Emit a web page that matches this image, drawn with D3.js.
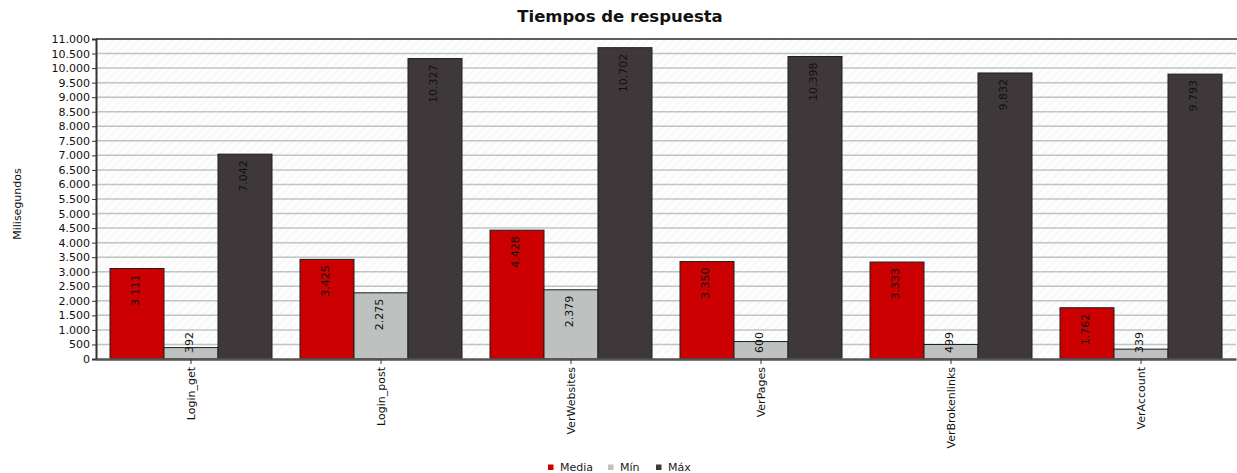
<!DOCTYPE html>
<html><head><meta charset="utf-8">
<script src="https://cdn.jsdelivr.net/npm/d3@7"></script>
<style>body{margin:0;background:#fff}svg{display:block;font-family:"DejaVu Sans",sans-serif}</style>
</head><body>
<script>
const categories = ["Login_get","Login_post","VerWebsites","VerPages","VerBrokenlinks","VerAccount"];
const seriesNames = ["Media","Mín","Máx"];
const media = [3111, 3425, 4428, 3350, 3333, 1762];
const minimo = [392, 2275, 2379, 600, 499, 339];
const maximo = [7042, 10327, 10702, 10398, 9832, 9793];
const yTicks = d3.range(0, 11001, 500);
const colors = ["#cc0000", "#bdc2c0", "#3e383b"];
const seriesValues = [media, minimo, maximo];

const W = 1237, H = 473;
const m = {left: 96, right: 1, top: 39, bottom: 114};
const FONT = "DejaVu Sans, sans-serif";
const svg = d3.select("body").append("svg").attr("width", W).attr("height", H);
const loc = d3.formatLocale({decimal: ",", thousands: ".", grouping: [3], currency: ["", ""]});
const fmt = loc.format(",d");

const x = d3.scaleBand().domain(categories).range([m.left, W - m.right]).paddingInner(0.1474).paddingOuter(0.0737);
const xs = d3.scaleBand().domain(seriesNames).range([0, x.bandwidth()]);
const y = d3.scaleLinear().domain([0, 11000]).range([H - m.bottom, m.top]);

const defs = svg.append("defs");
const pat = defs.append("pattern").attr("id", "hatch").attr("width", 6).attr("height", 6)
  .attr("patternUnits", "userSpaceOnUse").attr("patternTransform", "rotate(45)");
pat.append("rect").attr("width", 6).attr("height", 6).attr("fill", "#fdfdfd");
pat.append("line").attr("x1", 0).attr("y1", 0).attr("x2", 0).attr("y2", 6).attr("stroke", "#f1f1f1").attr("stroke-width", 1.5);

svg.append("rect").attr("x", m.left).attr("y", m.top).attr("width", W - m.right - m.left)
  .attr("height", y(0) - m.top).attr("fill", "url(#hatch)");

// gridlines
svg.append("g").selectAll("line").data(yTicks.filter(d => d > 0 && d < 11000)).join("line")
  .attr("x1", m.left).attr("x2", W - m.right).attr("y1", d => y(d)).attr("y2", d => y(d))
  .attr("stroke", "#bcc6c2").attr("stroke-width", 1.5);

// top border
svg.append("line").attr("x1", m.left).attr("x2", W).attr("y1", y(11000)).attr("y2", y(11000))
  .attr("stroke", "#2a2a2a").attr("stroke-width", 1.5);

// bars
const groups = svg.append("g").selectAll("g").data(categories).join("g")
  .attr("transform", d => `translate(${x(d)},0)`);
groups.each(function(cat, ci) {
  const g = d3.select(this);
  seriesNames.forEach((s, si) => {
    const v = seriesValues[si][ci];
    g.append("rect").attr("x", xs(s)).attr("y", y(v)).attr("width", xs.bandwidth())
      .attr("height", y(0) - y(v)).attr("fill", colors[si]).attr("stroke", "#1e1e1e").attr("stroke-width", 1);
  });
});
// value labels
groups.each(function(cat, ci) {
  const g = d3.select(this);
  seriesNames.forEach((s, si) => {
    const v = seriesValues[si][ci];
    const cx = xs(s) + xs.bandwidth() / 2 + 2;
    const label = fmt(v);
    const textLen = label.length * 7;
    const fits = (y(0) - y(v)) > textLen + 10;
    const ty = fits ? y(v) + 6 : y(0) - 6;
    g.append("text").attr("transform", `translate(${cx},${ty}) rotate(-90)`)
      .attr("text-anchor", fits ? "end" : "start").attr("font-size", 11).attr("fill", "#111")
      .attr("font-family", FONT).text(label);
  });
});

// y axis
const yAxis = svg.append("g").attr("transform", `translate(${m.left},0)`)
  .call(d3.axisLeft(y).tickValues(yTicks).tickFormat(fmt).tickSize(4).tickPadding(2));
yAxis.select(".domain").attr("stroke", "#333").attr("stroke-width", 2);
yAxis.selectAll(".tick line").attr("stroke", "#333");
yAxis.selectAll("text").attr("font-size", 11).attr("fill", "#111").attr("font-family", FONT);

// x axis
const xAxis = svg.append("g").attr("transform", `translate(0,${y(0)})`)
  .call(d3.axisBottom(x).tickSize(5).tickSizeOuter(0));
xAxis.select(".domain").attr("stroke", "#555").attr("stroke-width", 2.5);
xAxis.selectAll(".tick line").attr("stroke", "#333");
xAxis.selectAll("text").attr("font-size", 11).attr("fill", "#111").attr("font-family", FONT)
  .attr("transform", "rotate(-90)").attr("text-anchor", "end")
  .attr("x", -8).attr("y", 0).attr("dy", "0.35em");

// title
svg.append("text").attr("x", 620).attr("y", 22).attr("text-anchor", "middle")
  .attr("font-size", 16.5).attr("font-weight", "bold").attr("fill", "#111")
  .attr("font-family", FONT).text("Tiempos de respuesta");

// y title
svg.append("text").attr("transform", `translate(21,204) rotate(-90)`)
  .attr("text-anchor", "middle").attr("font-size", 11).attr("fill", "#111")
  .attr("font-family", FONT).text("Milisegundos");

// legend
const legendX = [548, 608, 656];
const lg = svg.append("g");
seriesNames.forEach((s, i) => {
  lg.append("rect").attr("x", legendX[i]).attr("y", 464.5).attr("width", 5.5).attr("height", 5.5).attr("fill", colors[i]);
  lg.append("text").attr("x", legendX[i] + 12).attr("y", 471).attr("font-size", 11)
    .attr("font-family", FONT).attr("fill", "#222").text(s);
});
</script>
</body></html>
